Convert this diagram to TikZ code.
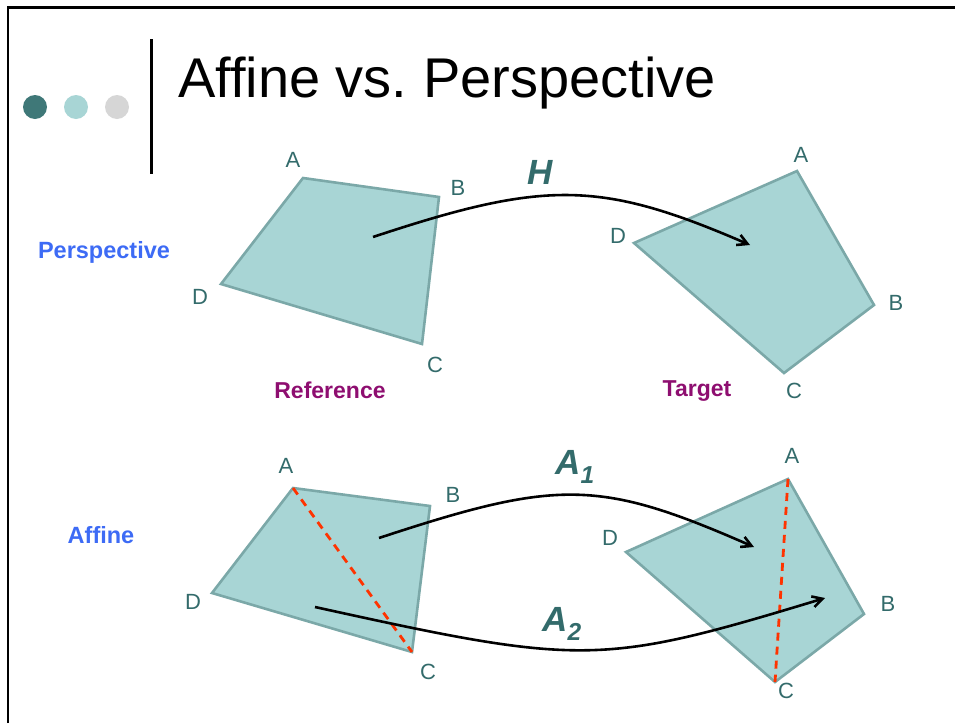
\documentclass[tikz,border=0pt]{standalone}
\usepackage{fontspec}
\setmainfont{Liberation Sans}
\usetikzlibrary{arrows.meta}
\definecolor{quadfill}{HTML}{A8D5D5}
\definecolor{quadline}{HTML}{7BA8A8}
\definecolor{labteal}{HTML}{336B6B}
\definecolor{dotdark}{HTML}{3F7878}
\definecolor{dotgray}{HTML}{D6D6D6}
\definecolor{refpurple}{HTML}{8E0E70}
\definecolor{sideblue}{HTML}{3D6BF5}
\definecolor{diagred}{HTML}{FF3300}
\frenchspacing

\begin{document}
\begin{tikzpicture}[x=1pt,y=-1pt,
quad/.style={fill=quadfill,draw=quadline,line width=2.6pt},
corner/.style={font=\fontsize{22}{22}\selectfont,text=labteal,inner sep=0pt},
side/.style={font=\bfseries\fontsize{23.5}{24}\selectfont,text=sideblue},
caption/.style={font=\bfseries\fontsize{23}{24}\selectfont,text=refpurple},
maplab/.style={font=\bfseries\itshape\fontsize{35}{35}\selectfont,text=labteal},
arr/.style={-{Straight Barb[length=10pt,width=11pt]},line width=2.6pt},
diag/.style={draw=diagred,line width=2.8pt,dash pattern=on 8pt off 6pt}
]
\useasboundingbox (0,0) rectangle (955,723);
% frame, dots and title
\draw[line width=2.2pt] (8,723) -- (8,7.5) -- (955,7.5);
\foreach \x/\c in {35/dotdark,76/quadfill,117/dotgray}
\fill[\c] (\x,107) circle (12);
\draw[line width=3pt] (151.5,39) -- (151.5,174);
\node[anchor=base west,inner sep=0pt,font=\fontsize{56}{56}\selectfont] (title)
at (178,97) {Affine vs. Perspective};

% perspective row
\node[side] (persp) at (104,252) {Perspective};
\coordinate (pA) at (303,178); \coordinate (pB) at (439,197);
\coordinate (pC) at (422,344); \coordinate (pD) at (221,284);
\draw[quad] (pA) -- (pB) -- (pC) -- (pD) -- cycle;
\node[corner] (lpA) at (293,160) {A};
\node[corner] (lpB) at (458,188) {B};
\node[corner] (lpC) at (435,365) {C};
\node[corner] (lpD) at (200,297) {D};

\coordinate (tA) at (797,171); \coordinate (tB) at (874,305);
\coordinate (tC) at (784,373); \coordinate (tD) at (634,243);
\draw[quad] (tA) -- (tB) -- (tC) -- (tD) -- cycle;
\node[corner] (ltA) at (801,155) {A};
\node[corner] (ltB) at (896,303) {B};
\node[corner] (ltC) at (794,391) {C};
\node[corner] (ltD) at (618,236) {D};

\node[caption] (ref) at (330,390) {Reference};
\node[caption] (tgt) at (697,391) {Target};

\coordinate (hs) at (373,237);
\coordinate (he) at (750,245);
\draw[arr] (hs) .. controls (545,180) and (600,180) .. (he);
\node[maplab] (hlab) at (540,172) {H};

% affine row
\node[side] (aff) at (101,535) {Affine};
\coordinate (aA) at (293,488); \coordinate (aB) at (430,506);
\coordinate (aC) at (412,652); \coordinate (aD) at (212,593);
\draw[quad] (aA) -- (aB) -- (aC) -- (aD) -- cycle;
\draw[diag] (aA) -- (aC);
\node[corner] (laA) at (286,466) {A};
\node[corner] (laB) at (453,495) {B};
\node[corner] (laC) at (428,672) {C};
\node[corner] (laD) at (193,602) {D};

\coordinate (bA) at (788,479); \coordinate (bB) at (864,614);
\coordinate (bC) at (775,682); \coordinate (bD) at (626,552);
\draw[quad] (bA) -- (bB) -- (bC) -- (bD) -- cycle;
\draw[diag] (bA) -- (bC);
\node[corner] (lbA) at (792,456) {A};
\node[corner] (lbB) at (888,604) {B};
\node[corner] (lbC) at (786,691) {C};
\node[corner] (lbD) at (610,538) {D};

\coordinate (a1s) at (379,538);
\coordinate (a1e) at (754,547);
\draw[arr] (a1s) .. controls (558,479) and (599,479) .. (a1e);
\node[maplab] (a1lab) at (575,467) {A\textsubscript{1}};

\coordinate (a2s) at (315,607);
\coordinate (a2e) at (825,598);
\draw[arr] (a2s) .. controls (583,666) and (601,666) .. (a2e);
\node[maplab] (a2lab) at (562,624) {A\textsubscript{2}};
\end{tikzpicture}
\end{document}
